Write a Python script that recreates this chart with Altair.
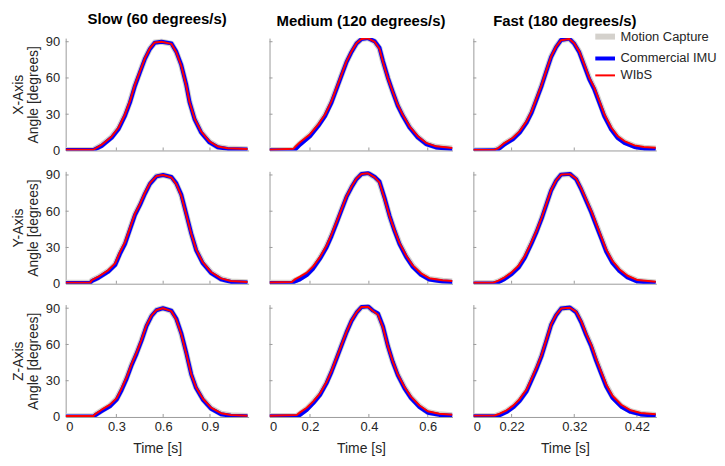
import altair as alt
import pandas as pd

FONT = "Liberation Sans"
TEXT = "#262626"
AXIS_GRAY = "#9a9a9a"

SERIES = ["Motion Capture", "Commercial IMU", "WIbS"]
SERIES_COLORS = ["#d4d1cc", "#0000ff", "#ff0000"]
SERIES_WIDTHS = [6, 2, 1]

col_titles = ["Slow (60 degrees/s)", "Medium (120 degrees/s)", "Fast (180 degrees/s)"]
row_titles = ["X-Axis", "Y-Axis", "Z-Axis"]
x_domains = [[-0.025, 1.148], [0.0625, 0.684], [0.159, 0.451]]
x_tick_values = [[-0.025, 0.3, 0.6, 0.9], [0.0625, 0.2, 0.4, 0.6], [0.159, 0.22, 0.32, 0.42]]
x_tick_labels = [["0", "0.3", "0.6", "0.9"], ["0", "0.2", "0.4", "0.6"], ["0", "0.22", "0.32", "0.42"]]
y_tick_values = [0, 30, 60, 90]
y_domain = [0, 93]

# ---------------- X-Axis row ----------------
t_x_slow = [-0.025, 0.153, 0.206, 0.270, 0.313, 0.355, 0.387, 0.419, 0.451, 0.483, 0.515, 0.546,
            0.589, 0.653, 0.684, 0.716, 0.748, 0.769, 0.801, 0.843, 0.897, 0.950, 1.013, 1.141]
mocap_x_slow = [0.5, 0.5, 4.4, 11.2, 18.2, 29.2, 40.2, 54.0, 65.0, 76.0, 84.3, 89.3,
                90.0, 88.4, 81.5, 70.5, 54.0, 40.2, 26.4, 15.4, 7.1, 3.0, 1.6, 1.0]
imu_x_slow = [0.3, 0.3, 3.8, 10.6, 17.5, 28.6, 39.6, 53.4, 64.6, 75.8, 84.0, 89.2,
              90.0, 88.6, 81.8, 70.8, 54.3, 40.0, 26.0, 14.9, 6.7, 2.6, 1.3, 0.8]
wibs_x_slow = [0.6, 0.6, 4.8, 11.6, 18.8, 29.8, 40.8, 54.5, 65.4, 76.3, 84.6, 89.4,
               90.0, 88.2, 81.2, 70.1, 53.6, 39.9, 26.6, 15.8, 7.5, 3.3, 1.8, 1.2]

t_x_med = [0.0625, 0.144, 0.149, 0.166, 0.200, 0.228, 0.251, 0.273, 0.290, 0.307, 0.324, 0.341, 0.358, 0.375,
           0.397, 0.420, 0.436, 0.448, 0.465, 0.481, 0.498, 0.515, 0.538, 0.566, 0.594, 0.628, 0.684]
mocap_x_med = [0.3, 0.5, 1.6, 5.8, 12.7, 21.0, 29.2, 40.3, 51.3, 62.4, 73.4, 81.7, 88.6, 92.2,
               93.0, 90.0, 84.5, 73.4, 59.6, 48.6, 37.5, 29.2, 19.6, 11.3, 5.8, 3.0, 1.6]
imu_x_med = [0.1, 0.2, 0.6, 4.8, 11.8, 20.2, 28.5, 39.6, 50.8, 62.0, 73.1, 81.5, 88.5, 92.2,
             93.0, 90.3, 85.0, 73.8, 59.9, 48.4, 37.0, 28.7, 19.0, 10.8, 5.3, 2.5, 1.1]
wibs_x_med = [0.5, 1.5, 2.8, 6.8, 13.5, 21.6, 29.8, 40.8, 51.8, 62.8, 73.7, 82.0, 88.8, 92.2,
              92.8, 89.8, 84.0, 73.0, 59.4, 48.6, 37.8, 29.6, 20.0, 11.8, 6.3, 3.4, 2.0]

t_x_fast = [0.159, 0.193, 0.199, 0.209, 0.222, 0.233, 0.244, 0.252, 0.260, 0.268, 0.275, 0.283, 0.291, 0.299,
            0.312, 0.320, 0.328, 0.336, 0.344, 0.352, 0.360, 0.368, 0.379, 0.389, 0.400, 0.416, 0.431, 0.450]
mocap_x_fast = [0.2, 0.3, 1.6, 5.8, 9.9, 15.4, 23.7, 32.0, 43.0, 54.1, 65.1, 77.6, 85.8, 91.4,
                92.5, 88.6, 81.7, 70.7, 59.6, 51.3, 40.3, 29.2, 18.2, 11.3, 7.1, 3.6, 2.2, 1.6]
imu_x_fast = [0.0, 0.1, 1.0, 5.2, 9.3, 14.8, 23.0, 31.4, 42.4, 53.6, 64.8, 77.3, 85.6, 91.4,
              92.6, 88.4, 81.2, 70.0, 58.8, 50.5, 39.4, 28.3, 17.3, 10.5, 6.3, 2.9, 1.5, 0.9]
wibs_x_fast = [0.4, 0.6, 2.0, 6.3, 10.5, 16.0, 24.3, 32.6, 43.5, 54.5, 65.5, 77.8, 85.9, 91.3,
               92.3, 88.8, 82.0, 71.2, 60.2, 52.0, 41.0, 30.0, 19.0, 12.0, 7.8, 4.2, 2.8, 2.2]

# ---------------- Y-Axis row ----------------
t_y_slow = [-0.025, 0.132, 0.143, 0.185, 0.249, 0.292, 0.323, 0.355, 0.387, 0.419, 0.451, 0.483, 0.515,
            0.557, 0.600, 0.653, 0.684, 0.716, 0.748, 0.780, 0.812, 0.854, 0.907, 0.971, 1.034, 1.141]
mocap_y_slow = [0.8, 0.8, 2.7, 5.3, 10.7, 16.0, 25.4, 33.4, 45.4, 57.4, 65.4, 74.8, 82.8,
                88.9, 90.0, 88.1, 82.8, 73.4, 57.4, 41.4, 28.0, 17.4, 9.3, 4.0, 1.9, 1.3]
imu_y_slow = [0.6, 0.6, 2.2, 4.8, 10.1, 15.4, 24.7, 32.8, 44.7, 56.8, 65.0, 74.4, 82.6,
              88.8, 90.0, 88.3, 83.2, 73.8, 57.8, 41.6, 27.6, 16.9, 8.8, 3.6, 1.5, 1.0]
wibs_y_slow = [0.9, 0.9, 3.0, 5.8, 11.3, 16.8, 26.2, 34.2, 46.2, 58.0, 66.0, 75.3, 83.2,
               89.1, 90.0, 87.9, 82.4, 72.9, 57.0, 41.2, 28.2, 17.8, 9.7, 4.4, 2.2, 1.5]

t_y_med = [0.0626, 0.138, 0.149, 0.166, 0.189, 0.211, 0.234, 0.256, 0.273, 0.290, 0.307, 0.324, 0.341, 0.358,
           0.375, 0.397, 0.420, 0.436, 0.453, 0.470, 0.487, 0.504, 0.527, 0.549, 0.577, 0.605, 0.650, 0.684]
mocap_y_med = [0.8, 0.8, 2.7, 4.5, 8.0, 13.4, 21.4, 30.7, 40.1, 50.7, 61.4, 72.1, 80.1, 86.8,
               90.8, 91.6, 88.1, 84.1, 70.8, 56.1, 44.1, 33.4, 22.7, 14.7, 8.0, 4.0, 2.4, 1.9]
imu_y_med = [0.6, 0.6, 1.8, 3.6, 7.2, 12.6, 20.7, 30.0, 39.4, 50.1, 61.0, 71.8, 79.8, 86.6,
             90.8, 91.7, 88.3, 84.6, 71.3, 56.4, 43.8, 32.8, 22.0, 14.0, 7.3, 3.4, 1.9, 1.4]
wibs_y_med = [1.0, 1.4, 3.6, 5.8, 9.2, 14.4, 22.2, 31.4, 40.8, 51.2, 61.8, 72.4, 80.4, 87.0,
              90.8, 91.4, 88.0, 83.6, 70.4, 56.0, 44.3, 33.8, 23.2, 15.2, 8.6, 4.6, 2.9, 2.3]

t_y_fast = [0.159, 0.191, 0.199, 0.209, 0.220, 0.231, 0.241, 0.252, 0.260, 0.268, 0.276, 0.283, 0.291, 0.299,
            0.313, 0.323, 0.331, 0.339, 0.347, 0.355, 0.363, 0.371, 0.381, 0.392, 0.405, 0.421, 0.450]
mocap_y_fast = [0.5, 0.5, 1.9, 4.6, 8.6, 14.0, 22.1, 34.2, 43.7, 54.4, 66.6, 77.3, 85.4, 90.3,
                90.8, 86.8, 78.7, 69.3, 59.8, 49.0, 38.3, 27.5, 18.1, 11.3, 5.9, 2.4, 1.1]
imu_y_fast = [0.2, 0.2, 1.3, 4.0, 7.9, 13.3, 21.4, 33.5, 43.1, 53.9, 66.2, 77.0, 85.2, 90.3,
              90.9, 86.5, 78.2, 68.7, 59.1, 48.2, 37.5, 26.6, 17.2, 10.5, 5.2, 1.8, 0.6]
wibs_y_fast = [0.8, 0.9, 2.5, 5.3, 9.4, 14.8, 22.9, 34.8, 44.2, 54.8, 66.9, 77.5, 85.5, 90.3,
               90.7, 87.0, 79.1, 69.8, 60.4, 49.7, 39.0, 28.3, 18.9, 12.0, 6.6, 3.0, 1.6]

# ---------------- Z-Axis row ----------------
t_z_slow = [-0.025, 0.153, 0.164, 0.206, 0.259, 0.302, 0.334, 0.366, 0.397, 0.429, 0.461, 0.493, 0.525,
            0.557, 0.599, 0.652, 0.684, 0.716, 0.748, 0.780, 0.811, 0.854, 0.907, 0.971, 1.034, 1.141]
mocap_z_slow = [0.5, 0.5, 1.9, 5.4, 9.5, 14.9, 23.0, 32.4, 43.2, 52.7, 63.5, 75.6, 83.7,
                88.4, 90.0, 87.8, 81.1, 68.9, 52.7, 35.1, 24.3, 14.9, 7.3, 2.7, 1.4, 0.8]
imu_z_slow = [0.3, 0.3, 1.4, 4.8, 8.9, 14.3, 22.3, 31.7, 42.6, 52.2, 63.0, 75.2, 83.5,
              88.3, 90.0, 88.0, 81.5, 69.4, 53.1, 35.3, 23.9, 14.4, 6.8, 2.2, 1.0, 0.5]
wibs_z_slow = [0.8, 0.8, 2.4, 6.0, 10.2, 15.6, 23.8, 33.0, 43.8, 53.3, 64.0, 75.9, 83.9,
               88.5, 90.0, 87.6, 80.7, 68.5, 52.4, 35.2, 24.6, 15.3, 7.7, 3.1, 1.7, 1.0]

t_z_med = [0.0625, 0.155, 0.166, 0.189, 0.211, 0.234, 0.256, 0.273, 0.290, 0.307, 0.324, 0.341, 0.358, 0.375,
           0.397, 0.414, 0.431, 0.448, 0.465, 0.481, 0.498, 0.521, 0.543, 0.572, 0.600, 0.639, 0.684]
mocap_z_med = [0.8, 0.8, 2.7, 6.8, 12.2, 18.9, 28.4, 37.8, 48.6, 59.4, 70.2, 79.7, 86.4, 91.0,
               91.5, 87.8, 85.1, 74.3, 58.1, 45.9, 35.1, 24.3, 16.2, 8.9, 4.1, 2.2, 1.4]
imu_z_med = [0.5, 0.5, 1.6, 5.9, 11.4, 18.2, 27.8, 37.3, 48.2, 59.1, 70.0, 79.5, 86.3, 91.0,
             91.6, 88.0, 85.6, 74.8, 58.4, 45.7, 34.6, 23.7, 15.5, 8.2, 3.5, 1.7, 1.0]
wibs_z_med = [1.0, 1.6, 3.8, 7.6, 12.9, 19.5, 28.9, 38.2, 48.9, 59.6, 70.4, 79.9, 86.5, 91.0,
              91.3, 87.7, 84.6, 73.9, 58.0, 46.0, 35.4, 24.8, 16.8, 9.5, 4.7, 2.7, 1.8]

t_z_fast = [0.159, 0.193, 0.201, 0.212, 0.223, 0.233, 0.244, 0.252, 0.260, 0.268, 0.276, 0.283, 0.291, 0.299,
            0.313, 0.323, 0.331, 0.339, 0.347, 0.355, 0.363, 0.371, 0.381, 0.395, 0.410, 0.426, 0.450]
mocap_z_fast = [0.8, 0.8, 2.1, 4.8, 8.8, 14.1, 22.0, 31.3, 40.6, 51.2, 64.5, 76.4, 84.4, 89.7,
                90.5, 87.0, 79.0, 68.4, 59.2, 47.2, 36.6, 26.0, 16.7, 9.3, 4.8, 2.7, 1.6]
imu_z_fast = [0.5, 0.5, 1.5, 4.1, 8.1, 13.4, 21.3, 30.6, 40.0, 50.7, 64.1, 76.1, 84.2, 89.7,
              90.6, 86.6, 78.4, 67.8, 58.5, 46.4, 35.8, 25.1, 15.8, 8.5, 4.2, 2.1, 1.0]
wibs_z_fast = [1.1, 1.2, 2.7, 5.5, 9.6, 14.9, 22.8, 31.9, 41.2, 51.7, 64.8, 76.6, 84.5, 89.7,
               90.4, 87.2, 79.5, 69.0, 59.9, 48.0, 37.4, 26.9, 17.6, 10.1, 5.5, 3.3, 2.2]

PANELS = [
    [(t_x_slow, mocap_x_slow, imu_x_slow, wibs_x_slow),
     (t_x_med, mocap_x_med, imu_x_med, wibs_x_med),
     (t_x_fast, mocap_x_fast, imu_x_fast, wibs_x_fast)],
    [(t_y_slow, mocap_y_slow, imu_y_slow, wibs_y_slow),
     (t_y_med, mocap_y_med, imu_y_med, wibs_y_med),
     (t_y_fast, mocap_y_fast, imu_y_fast, wibs_y_fast)],
    [(t_z_slow, mocap_z_slow, imu_z_slow, wibs_z_slow),
     (t_z_med, mocap_z_med, imu_z_med, wibs_z_med),
     (t_z_fast, mocap_z_fast, imu_z_fast, wibs_z_fast)],
]

W, H = 184, 113

color_scale = alt.Scale(domain=SERIES, range=SERIES_COLORS)
width_scale = alt.Scale(domain=SERIES, range=SERIES_WIDTHS)
legend = alt.Legend(
    title=None, orient="none", legendX=532, legendY=-12, symbolType="M-1.4,0H1.4",
    symbolSize=200, labelFontSize=13, labelFont=FONT, labelColor=TEXT,
    labelOffset=5, rowPadding=0, padding=0,
)


def label_expr(values, labels):
    expr = "''"
    for v, l in reversed(list(zip(values, labels))):
        expr = f"abs(datum.value - ({v})) < 1e-6 ? '{l}' : ({expr})"
    return expr


def panel(r, c):
    t, mc, imu, wb = PANELS[r][c]
    n = len(t)
    df = pd.DataFrame({
        "t": list(t) * 3,
        "angle": list(mc) + list(imu) + list(wb),
        "series": [SERIES[0]] * n + [SERIES[1]] * n + [SERIES[2]] * n,
    })
    xs = alt.Scale(domain=x_domains[c], nice=False, zero=False)
    ys = alt.Scale(domain=y_domain, nice=False, zero=False)
    xaxis = alt.Axis(
        values=x_tick_values[c], labelExpr=label_expr(x_tick_values[c], x_tick_labels[c]),
        labels=(r == 2), title=("Time [s]" if r == 2 else None), ticks=False, grid=False,
        labelFlush=True, labelPadding=4, titlePadding=8,
    )
    yaxis = alt.Axis(
        values=y_tick_values, labels=(c == 0),
        title=([row_titles[r], "Angle [degrees]"] if c == 0 else None),
        ticks=False, grid=False, labelPadding=6, titlePadding=4.5, titleLineHeight=15,
    )
    base = alt.Chart(df).encode(
        x=alt.X("t:Q", scale=xs, axis=xaxis),
        y=alt.Y("angle:Q", scale=ys, axis=yaxis),
        color=alt.Color("series:N", scale=color_scale, legend=legend),
        strokeWidth=alt.StrokeWidth("series:N", scale=width_scale, legend=legend),
    )
    layers = [
        base.transform_filter(alt.datum.series == s).mark_line(clip=True, strokeJoin="round")
        for s in SERIES
    ]
    xt = pd.DataFrame({"v": x_tick_values[c][1:]})
    yt = pd.DataFrame({"v": y_tick_values[1:]})
    xticks = alt.Chart(xt).mark_rule(color=AXIS_GRAY, strokeWidth=1).encode(
        x=alt.X("v:Q", scale=xs, axis=xaxis), y=alt.value(H), y2=alt.value(H - 3))
    yticks = alt.Chart(yt).mark_rule(color=AXIS_GRAY, strokeWidth=1).encode(
        y=alt.Y("v:Q", scale=ys, axis=yaxis), x=alt.value(0), x2=alt.value(3))
    ch = alt.layer(xticks, yticks, *layers).properties(width=W, height=H)
    if r == 0:
        ch = ch.properties(title=alt.Title(col_titles[c], fontSize=15, fontWeight="bold",
                                           font=FONT, color="#000000", anchor="middle", offset=9))
    return ch


charts = [panel(r, c) for r in range(3) for c in range(3)]

chart = alt.concat(*charts, columns=3, spacing={"row": 11, "column": 20}).configure(
    background="white", padding={"left": 4, "top": 2, "right": 0, "bottom": 0}
).configure_view(
    stroke=None
).configure_axis(
    domainColor=AXIS_GRAY, domainWidth=1, labelFont=FONT, labelFontSize=13, labelColor=TEXT,
    titleFont=FONT, titleFontSize=14, titleFontWeight="normal", titleColor=TEXT,
)

chart.save("out.html", embed_options={"renderer": "svg", "actions": False})
